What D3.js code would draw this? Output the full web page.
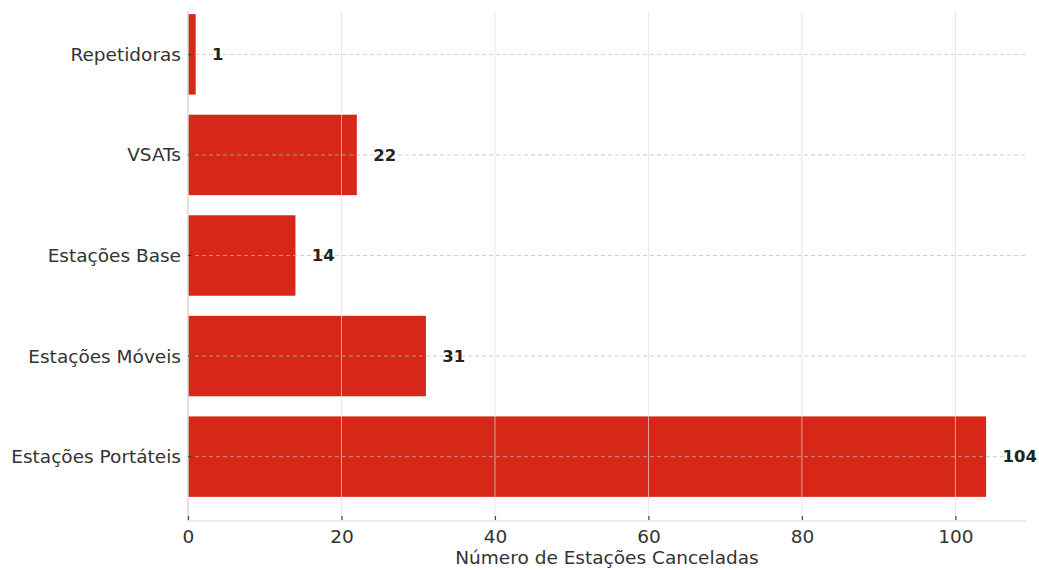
<!DOCTYPE html>
<html>
<head>
<meta charset="utf-8">
<script src="https://cdn.jsdelivr.net/npm/d3@7"></script>
<style>
  html, body { margin: 0; padding: 0; background: #fff; }
  svg { display: block; }
</style>
</head>
<body>
<svg id="chart" width="1039" height="570"></svg>
<script>
// Station types (top to bottom) and number of cancelled stations
const categories = ["Repetidoras", "VSATs", "Estações Base", "Estações Móveis", "Estações Portáteis"];
const values = [1, 22, 14, 31, 104];
const xTicks = [0, 20, 40, 60, 80, 100];
const xLabel = "Número de Estações Canceladas";

(function draw() {
  const svg = d3.select("#chart");
  const plotLeft = 188, plotRight = 1026, plotTop = -10, plotBottom = 521;
  const font = "'DejaVu Sans', sans-serif";

  const x = d3.scaleLinear()
    .domain([0, d3.max(values) * 1.05])
    .range([plotLeft, plotRight]);

  // band centres at integer positions with 5% margins on both ends
  const n = categories.length;
  const yPos = d3.scaleLinear()
    .domain([n - 1 + 0.4 + 0.24, -0.4 - 0.24])
    .range([plotTop, plotBottom]);
  const yIndex = i => yPos(n - 1 - i);   // first category at the top
  const barH = yPos(0) - yPos(0.8);

  // bars
  svg.append("g").selectAll("rect")
    .data(values)
    .join("rect")
    .attr("x", x(0))
    .attr("y", (d, i) => yIndex(i) - barH / 2)
    .attr("width", d => x(d) - x(0))
    .attr("height", barH)
    .attr("fill", "#d62719");

  // vertical solid grid
  svg.append("g").selectAll("line")
    .data(xTicks)
    .join("line")
    .attr("x1", d => x(d)).attr("x2", d => x(d))
    .attr("y1", 11).attr("y2", plotBottom)
    .attr("stroke", "#dddddd")
    .attr("stroke-opacity", 0.7)
    .attr("stroke-width", 1);

  // horizontal dashed grid at category centres
  svg.append("g").selectAll("line")
    .data(categories)
    .join("line")
    .attr("x1", plotLeft).attr("x2", plotRight)
    .attr("y1", (d, i) => yIndex(i)).attr("y2", (d, i) => yIndex(i))
    .attr("stroke", "#bbbbbb")
    .attr("stroke-opacity", 0.7)
    .attr("stroke-dasharray", "4,3")
    .attr("stroke-width", 1);

  // spines
  svg.append("line")
    .attr("x1", plotLeft).attr("x2", plotLeft).attr("y1", 11).attr("y2", plotBottom)
    .attr("stroke", "#d9d9d9").attr("stroke-width", 1.2);
  svg.append("line")
    .attr("x1", plotLeft).attr("x2", plotRight).attr("y1", plotBottom).attr("y2", plotBottom)
    .attr("stroke", "#d9d9d9").attr("stroke-width", 1.2);

  // x axis
  const xAxis = svg.append("g")
    .attr("transform", `translate(0,${plotBottom})`)
    .call(d3.axisBottom(x).tickValues(xTicks).tickSize(0).tickPadding(0));
  xAxis.select(".domain").remove();
  xAxis.selectAll(".tick line").remove();
  xAxis.selectAll(".tick").append("line")
    .attr("y1", -5).attr("y2", -1)
    .attr("stroke", "#444").attr("stroke-width", 1.2);
  xAxis.selectAll(".tick text")
    .attr("y", 9)
    .attr("dy", "0.71em")
    .attr("fill", "#333")
    .style("font-family", font)
    .style("font-size", "18.5px");

  // y tick labels and inward tick marks
  const yAxis = svg.append("g");
  yAxis.selectAll("text")
    .data(categories)
    .join("text")
    .attr("x", 181)
    .attr("y", (d, i) => yIndex(i))
    .attr("dy", "0.35em")
    .attr("text-anchor", "end")
    .attr("fill", "#333")
    .style("font-family", font)
    .style("font-size", "18.5px")
    .text(d => d);
  yAxis.selectAll("line")
    .data(categories)
    .join("line")
    .attr("x1", plotLeft).attr("x2", plotLeft + 4)
    .attr("y1", (d, i) => yIndex(i)).attr("y2", (d, i) => yIndex(i))
    .attr("stroke", "#444").attr("stroke-width", 1.2);

  // value labels
  svg.append("g").selectAll("text")
    .data(values)
    .join("text")
    .attr("x", d => x(d + 2) + 1)
    .attr("y", (d, i) => yIndex(i))
    .attr("dy", "0.35em")
    .attr("fill", "#222")
    .style("font-family", font)
    .style("font-weight", "bold")
    .style("font-size", "16.5px")
    .text(d => d);

  // x axis title
  svg.append("text")
    .attr("x", (plotLeft + plotRight) / 2)
    .attr("y", 558)
    .attr("dy", "0.35em")
    .attr("text-anchor", "middle")
    .attr("fill", "#333")
    .style("font-family", font)
    .style("font-size", "18.5px")
    .text(xLabel);
})();
</script>
</body>
</html>
